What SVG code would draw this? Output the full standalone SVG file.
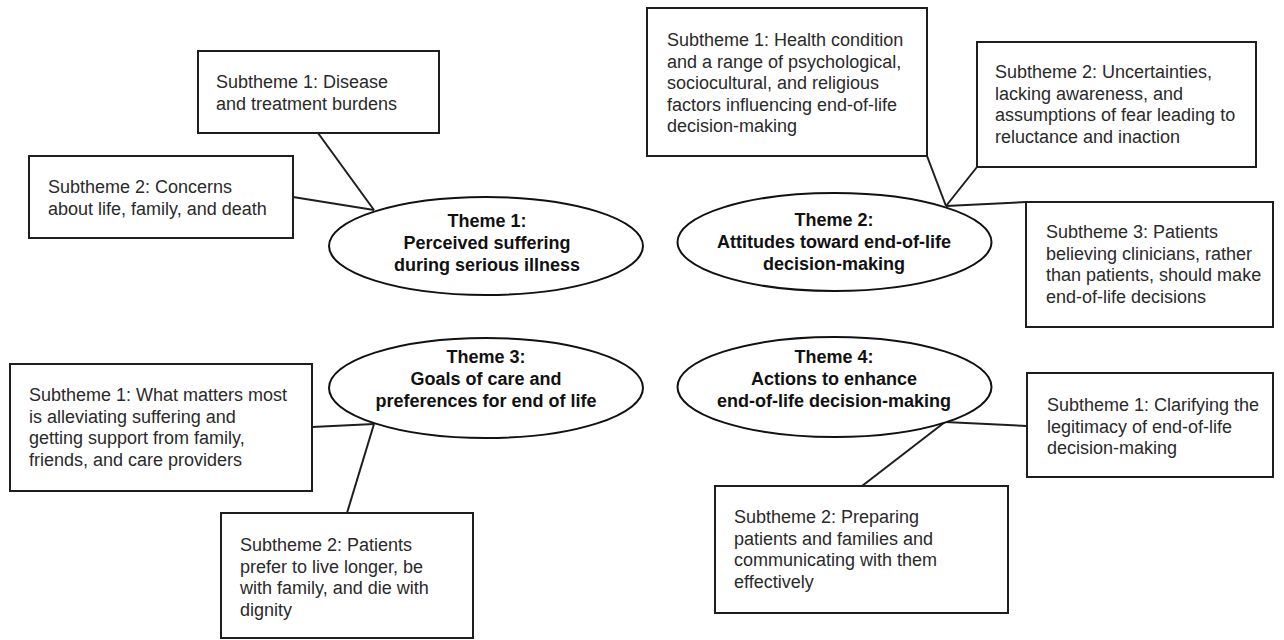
<svg xmlns="http://www.w3.org/2000/svg" width="1284" height="640" viewBox="0 0 1284 640">
<style>
.box{fill:#fff;stroke:#1e1e1e;stroke-width:2}
.ell{fill:#fff;stroke:#111;stroke-width:2}
.con{stroke:#1e1e1e;stroke-width:2;fill:none}
.t{font-family:"Liberation Sans",Arial,sans-serif;font-size:18px;fill:#2a2a2a}
.h{font-family:"Liberation Sans",Arial,sans-serif;font-size:18px;font-weight:bold;fill:#111;text-anchor:middle}
</style>
<rect width="1284" height="640" fill="#fff"/>
<g id="connectors">
<line class="con" x1="318" y1="133" x2="374" y2="210"/>
<line class="con" x1="293" y1="197" x2="374" y2="210"/>
<line class="con" x1="927" y1="156" x2="946" y2="206"/>
<line class="con" x1="977" y1="167" x2="946" y2="206"/>
<line class="con" x1="1026" y1="202" x2="946" y2="206"/>
<line class="con" x1="312" y1="427" x2="374" y2="424"/>
<line class="con" x1="347" y1="513" x2="374" y2="424"/>
<line class="con" x1="1027" y1="426" x2="945" y2="422"/>
<line class="con" x1="862" y1="486" x2="945" y2="422"/>
</g>
<g id="theme1">
<ellipse class="ell" cx="486" cy="246" rx="157" ry="49"/>
<text class="h" x="487" y="227">Theme 1:</text>
<text class="h" x="487" y="249">Perceived suffering</text>
<text class="h" x="487" y="271">during serious illness</text>
</g>
<g id="theme2">
<ellipse class="ell" cx="834.5" cy="242" rx="157" ry="49"/>
<text class="h" x="834" y="226">Theme 2:</text>
<text class="h" x="834" y="248">Attitudes toward end-of-life</text>
<text class="h" x="834" y="270">decision-making</text>
</g>
<g id="theme3">
<ellipse class="ell" cx="486" cy="388" rx="157" ry="50"/>
<text class="h" x="486" y="363">Theme 3:</text>
<text class="h" x="486" y="385">Goals of care and</text>
<text class="h" x="486" y="407">preferences for end of life</text>
</g>
<g id="theme4">
<ellipse class="ell" cx="834.5" cy="387" rx="157" ry="50"/>
<text class="h" x="834" y="363">Theme 4:</text>
<text class="h" x="834" y="385">Actions to enhance</text>
<text class="h" x="834" y="407">end-of-life decision-making</text>
</g>
<g id="t1s1">
<rect class="box" x="198" y="51" width="241" height="82"/>
<text class="t" x="216" y="88">Subtheme 1: Disease</text>
<text class="t" x="216" y="109.5">and treatment burdens</text>
</g>
<g id="t1s2">
<rect class="box" x="29" y="156" width="264" height="82"/>
<text class="t" x="48" y="193">Subtheme 2: Concerns</text>
<text class="t" x="48" y="214.5">about life, family, and death</text>
</g>
<g id="t2s1">
<rect class="box" x="647" y="8" width="280" height="148"/>
<text class="t" x="667" y="46">Subtheme 1: Health condition</text>
<text class="t" x="667" y="67.5">and a range of psychological,</text>
<text class="t" x="667" y="89">sociocultural, and religious</text>
<text class="t" x="667" y="110.5">factors influencing end-of-life</text>
<text class="t" x="667" y="132">decision-making</text>
</g>
<g id="t2s2">
<rect class="box" x="977" y="42" width="279" height="125"/>
<text class="t" x="995" y="78">Subtheme 2: Uncertainties,</text>
<text class="t" x="995" y="99.5">lacking awareness, and</text>
<text class="t" x="995" y="121">assumptions of fear leading to</text>
<text class="t" x="995" y="142.5">reluctance and inaction</text>
</g>
<g id="t2s3">
<rect class="box" x="1026" y="202" width="247" height="125"/>
<text class="t" x="1046" y="238">Subtheme 3: Patients</text>
<text class="t" x="1046" y="259.5">believing clinicians, rather</text>
<text class="t" x="1046" y="281">than patients, should make</text>
<text class="t" x="1046" y="302.5">end-of-life decisions</text>
</g>
<g id="t3s1">
<rect class="box" x="10" y="364" width="302" height="127"/>
<text class="t" x="29" y="401">Subtheme 1: What matters most</text>
<text class="t" x="29" y="422.5">is alleviating suffering and</text>
<text class="t" x="29" y="444">getting support from family,</text>
<text class="t" x="29" y="465.5">friends, and care providers</text>
</g>
<g id="t3s2">
<rect class="box" x="221" y="513" width="252" height="125"/>
<text class="t" x="240" y="551">Subtheme 2: Patients</text>
<text class="t" x="240" y="572.5">prefer to live longer, be</text>
<text class="t" x="240" y="594">with family, and die with</text>
<text class="t" x="240" y="615.5">dignity</text>
</g>
<g id="t4s1">
<rect class="box" x="1027" y="373" width="246" height="104"/>
<text class="t" x="1047" y="411">Subtheme 1: Clarifying the</text>
<text class="t" x="1047" y="432.5">legitimacy of end-of-life</text>
<text class="t" x="1047" y="454">decision-making</text>
</g>
<g id="t4s2">
<rect class="box" x="715" y="486" width="293" height="127"/>
<text class="t" x="734" y="523">Subtheme 2: Preparing</text>
<text class="t" x="734" y="544.5">patients and families and</text>
<text class="t" x="734" y="566">communicating with them</text>
<text class="t" x="734" y="587.5">effectively</text>
</g>
</svg>
